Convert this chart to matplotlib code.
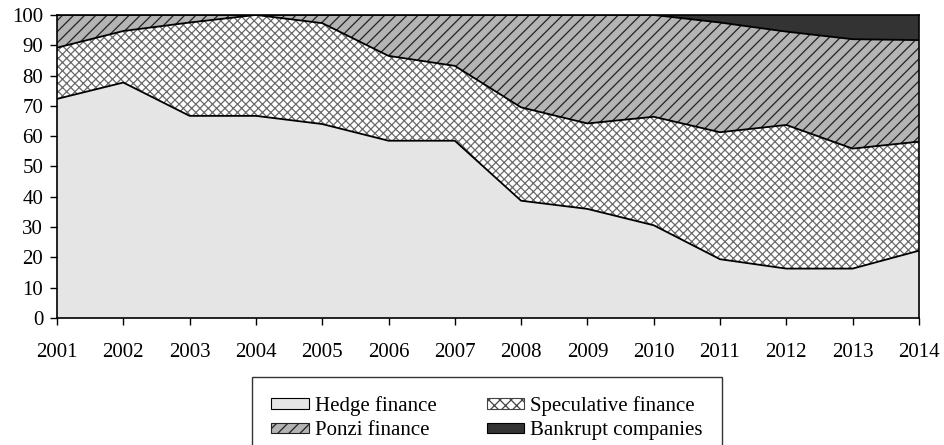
import matplotlib

matplotlib.use("Agg")
import matplotlib.pyplot as plt
import numpy as np
from matplotlib.patches import Patch

years = list(range(2001, 2015))
hedge = [72.3, 77.7, 66.7, 66.7, 64.0, 58.5, 58.5, 38.7, 36.0, 30.6, 19.4, 16.3, 16.3, 22.2]
speculative = [16.9, 17.0, 30.8, 33.3, 33.3, 28.0, 24.7, 30.8, 28.2, 35.8, 41.9, 47.4, 39.6, 36.0]
ponzi = [10.8, 5.3, 2.5, 0.0, 2.7, 13.5, 16.8, 30.5, 35.8, 33.6, 36.2, 30.8, 36.1, 33.5]
labels = ["Hedge finance", "Speculative finance", "Ponzi finance", "Bankrupt companies"]

plt.rcParams["font.family"] = ["Liberation Serif", "DejaVu Serif"]
plt.rcParams["hatch.linewidth"] = 0.9

x = np.array(years)
h = np.array(hedge)
s = h + np.array(speculative)
p = s + np.array(ponzi)
top = np.full_like(h, 100.0)

fig = plt.figure(figsize=(9.44, 4.45), dpi=100)
ax = fig.add_axes([0.0604, 0.2854, 0.913, 0.681])

ax.fill_between(x, 0, h, facecolor="#e5e5e5", edgecolor="none", lw=0)
ax.fill_between(x, h, s, facecolor="white", edgecolor="#6a6a6a", hatch="xxxx", lw=0)
ax.fill_between(x, s, p, facecolor="#b4b4b4", edgecolor="#222222", hatch="///", lw=0)
ax.fill_between(x, p, top, facecolor="#333333", edgecolor="none", lw=0)

for line in (h, s, p):
    ax.plot(x, line, color="black", lw=1.3)

ax.set_xlim(2001, 2014)
ax.set_ylim(0, 100)
ax.set_xticks(years)
ax.set_yticks(range(0, 101, 10))
ax.tick_params(labelsize=15, direction="out", length=5, width=1, colors="black")
ax.tick_params(axis="x", pad=13)
ax.tick_params(axis="y", pad=5)
for sp in ax.spines.values():
    sp.set_linewidth(1.2)

handles = [
    Patch(facecolor="#e5e5e5", edgecolor="black", lw=0.8),
    Patch(facecolor="white", edgecolor="#444444", hatch="xxx", lw=0.8),
    Patch(facecolor="#b4b4b4", edgecolor="#222222", hatch="///", lw=0.8),
    Patch(facecolor="#333333", edgecolor="black", lw=0.8),
]
order = [0, 2, 1, 3]
leg = fig.legend(
    [handles[i] for i in order],
    [labels[i] for i in order],
    loc="upper center",
    bbox_to_anchor=(0.516, 0.152),
    ncol=2,
    fontsize=15,
    frameon=True,
    fancybox=False,
    edgecolor="black",
    handlelength=1.8,
    handleheight=0.4,
    handletextpad=0.3,
    columnspacing=2.4,
    labelspacing=0.25,
    borderpad=0.9,
    borderaxespad=0,
)
leg.get_frame().set_linewidth(1.0)

fig.savefig("out.png", dpi=100)
